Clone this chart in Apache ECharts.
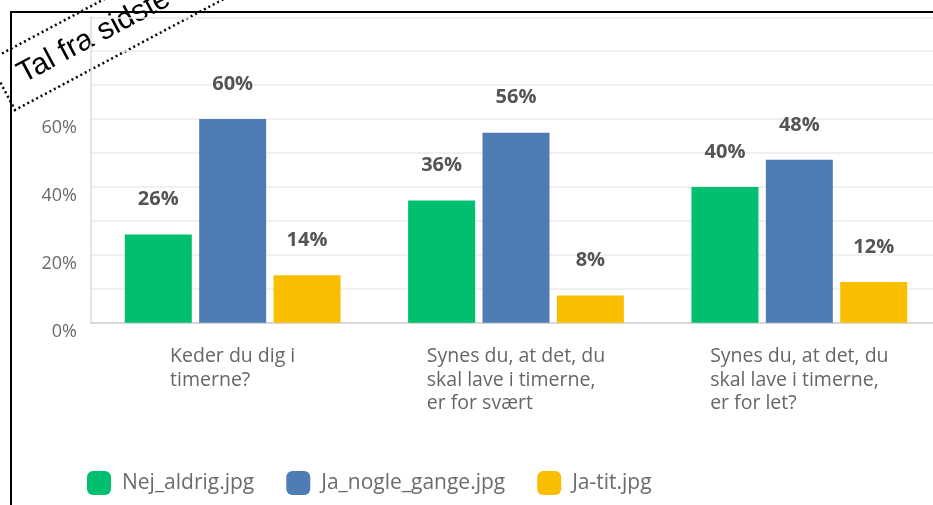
<!DOCTYPE html>
<html>
<head>
<meta charset="utf-8">
<script src="https://cdn.jsdelivr.net/npm/echarts@6/dist/echarts.min.js"></script>
<style>
  html, body { margin: 0; padding: 0; background: #fff; overflow: hidden; }
  /* chart is a bit wider than the window: the plot is cut off on the right */
  #main { width: 960px; height: 505px; }
</style>
</head>
<body>
<div id="main"></div>
<script>
// data
var categories = [
  'Keder du dig i\ntimerne?',
  'Synes du, at det, du\nskal lave i timerne,\ner for svært',
  'Synes du, at det, du\nskal lave i timerne,\ner for let?'
];
var seriesNames = ['Nej_aldrig.jpg', 'Ja_nogle_gange.jpg', 'Ja-tit.jpg'];
var nejAldrig = [26, 36, 40];
var jaNogleGange = [60, 56, 48];
var jaTit = [14, 8, 12];
var colors = ['#00bf6f', '#507cb6', '#f9be00'];
var stampText = 'Tal fra sidste';

var myChart = echarts.init(document.getElementById('main'));

function barSeries(name, data, color) {
  return {
    name: name,
    type: 'bar',
    data: data,
    barWidth: 67,
    barGap: '11%',
    itemStyle: { color: color },
    label: {
      show: true,
      position: 'top',
      distance: 25,
      formatter: '{c}%',
      fontFamily: 'Open Sans',
      fontWeight: 'bold',
      fontSize: 20,
      color: '#545454'
    }
  };
}

var option = {
  animation: false,
  textStyle: { fontFamily: 'Open Sans' },
  legend: {
    left: 82,
    top: 466,
    itemWidth: 24,
    itemHeight: 24,
    itemGap: 32,
    icon: 'roundRect',
    textStyle: { fontSize: 21, color: '#6b6b6b', padding: [0, 0, 0, 6] },
    data: seriesNames
  },
  grid: { left: 91, right: 19, top: 17.3, bottom: 182.3, containLabel: false },
  xAxis: {
    type: 'category',
    data: categories,
    axisTick: { show: false },
    axisLine: { lineStyle: { color: '#d0d0d0', width: 1.5 } },
    axisLabel: {
      margin: 22,
      align: 'center',
      formatter: function (v) {
        return v.split('\n').map(function (l) { return '{a|' + l + '}'; }).join('\n');
      },
      rich: {
        a: { align: 'left', fontSize: 19.5, lineHeight: 23.5, color: '#666', fontFamily: 'Open Sans' }
      }
    }
  },
  yAxis: {
    type: 'value',
    min: 0,
    max: 90,
    interval: 10,
    axisLine: { show: true, lineStyle: { color: '#dcdcdc', width: 1.5 } },
    axisTick: { show: false },
    splitLine: { lineStyle: { color: '#ebebeb', width: 1.5 } },
    axisLabel: {
      margin: 14,
      fontSize: 18,
      color: '#6b6b6b',
      verticalAlign: 'top',
      formatter: function (v) { return (v % 20 === 0 && v <= 60) ? v + '%' : ''; }
    }
  },
  graphic: [
    {
      type: 'polyline',
      z: 50,
      shape: { points: [[11, 505], [11, 12], [960, 12]] },
      style: { fill: null, stroke: '#000', lineWidth: 2 }
    },
    {
      type: 'group',
      x: 15,
      y: 110,
      rotation: 28 * Math.PI / 180,
      z: 100,
      children: [
        {
          type: 'rect',
          shape: { x: 0, y: -56, width: 420, height: 56 },
          style: { fill: '#fff', stroke: '#000', lineWidth: 2.5, lineDash: [2, 3] }
        },
        {
          type: 'text',
          x: 20,
          y: -28,
          style: {
            text: stampText,
            fontFamily: 'Liberation Sans',
            fontSize: 30,
            fill: '#000',
            verticalAlign: 'middle',
            align: 'left'
          }
        }
      ]
    }
  ],
  series: [
    barSeries(seriesNames[0], nejAldrig, colors[0]),
    barSeries(seriesNames[1], jaNogleGange, colors[1]),
    barSeries(seriesNames[2], jaTit, colors[2])
  ]
};

myChart.setOption(option);
</script>
</body>
</html>
